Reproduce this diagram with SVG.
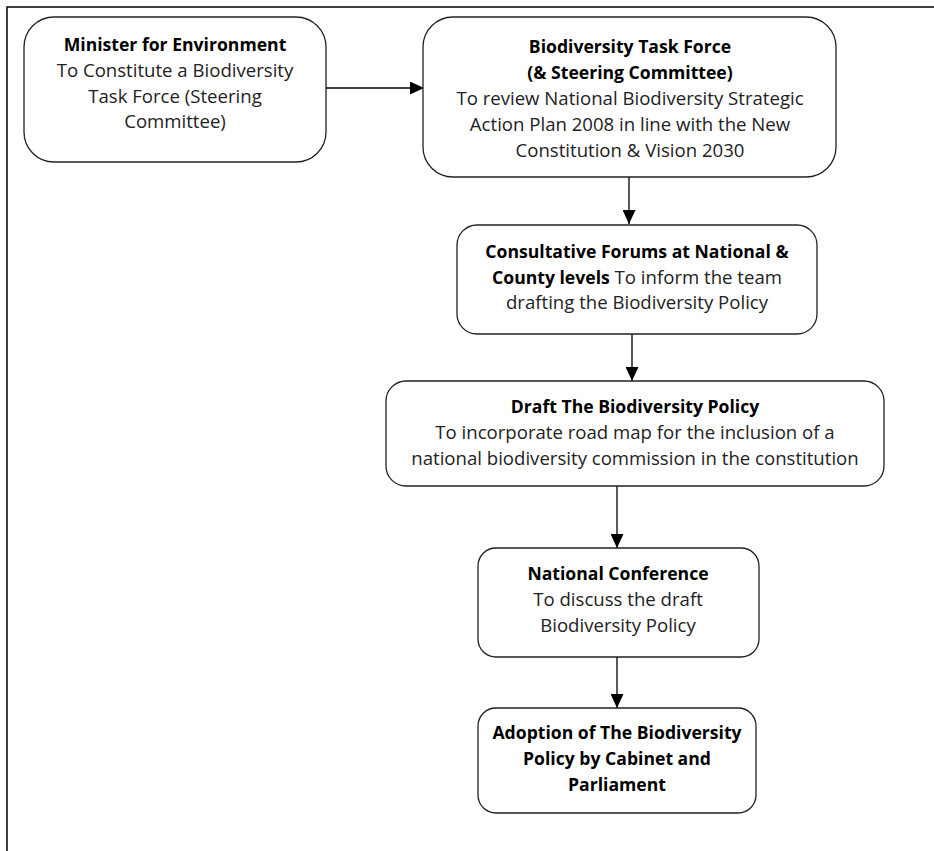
<svg xmlns="http://www.w3.org/2000/svg" width="934" height="851" viewBox="0 0 934 851">
<defs>
<marker id="ah" viewBox="0 0 14 13" refX="14" refY="6.5" markerWidth="14" markerHeight="13" markerUnits="userSpaceOnUse" orient="auto">
<path d="M0,0 L14,6.5 L0,13 Z" fill="#000"/>
</marker>
</defs>
<style>
.box{fill:#fff;stroke:#222;stroke-width:1.3}
.t{font-family:"Open Sans","Liberation Sans",sans-serif;font-size:18.6px;fill:#222;text-anchor:middle}
.b{font-weight:bold;fill:#000;font-size:17.6px}
.c{stroke:#000;stroke-width:1.3;fill:none;marker-end:url(#ah)}
.frame{stroke:#000;stroke-width:1.5;fill:none}
</style>
<rect width="934" height="851" fill="#fff"/>
<path class="frame" d="M7,851 L7,7 L934,7"/>
<g id="connectors">
<line class="c" x1="326" y1="88" x2="424" y2="88"/>
<line class="c" x1="629" y1="177" x2="629" y2="224"/>
<line class="c" x1="632" y1="334" x2="632" y2="381"/>
<line class="c" x1="617" y1="486" x2="617" y2="548"/>
<line class="c" x1="617" y1="657" x2="617" y2="708"/>
</g>
<g id="n1">
<rect class="box" x="24" y="17" width="302" height="145" rx="30"/>
<text class="t b" x="175" y="51">Minister for Environment</text>
<text class="t" x="175" y="77">To Constitute a Biodiversity</text>
<text class="t" x="175" y="103">Task Force (Steering</text>
<text class="t" x="175" y="128">Committee)</text>
</g>
<g id="n2">
<rect class="box" x="423" y="17" width="413" height="160" rx="30"/>
<text class="t b" x="630" y="53">Biodiversity Task Force</text>
<text class="t b" x="630" y="79">(&amp; Steering Committee)</text>
<text class="t" x="630" y="105">To review National Biodiversity Strategic</text>
<text class="t" x="630" y="131">Action Plan 2008 in line with the New</text>
<text class="t" x="630" y="157">Constitution &amp; Vision 2030</text>
</g>
<g id="n3">
<rect class="box" x="457" y="225" width="360" height="109" rx="20"/>
<text class="t b" x="637" y="258">Consultative Forums at National &amp;</text>
<text class="t" x="637" y="284"><tspan class="b">County levels</tspan> To inform the team</text>
<text class="t" x="637" y="309">drafting the Biodiversity Policy</text>
</g>
<g id="n4">
<rect class="box" x="386" y="381" width="498" height="105" rx="20"/>
<text class="t b" x="635" y="413">Draft The Biodiversity Policy</text>
<text class="t" x="635" y="439">To incorporate road map for the inclusion of a</text>
<text class="t" x="635" y="465">national biodiversity commission in the constitution</text>
</g>
<g id="n5">
<rect class="box" x="478" y="548" width="281" height="109" rx="18"/>
<text class="t b" x="618" y="580">National Conference</text>
<text class="t" x="618" y="606">To discuss the draft</text>
<text class="t" x="618" y="632">Biodiversity Policy</text>
</g>
<g id="n6">
<rect class="box" x="478" y="708" width="278" height="105" rx="18"/>
<text class="t b" x="617" y="739">Adoption of The Biodiversity</text>
<text class="t b" x="617" y="765">Policy by Cabinet and</text>
<text class="t b" x="617" y="791">Parliament</text>
</g>
</svg>
